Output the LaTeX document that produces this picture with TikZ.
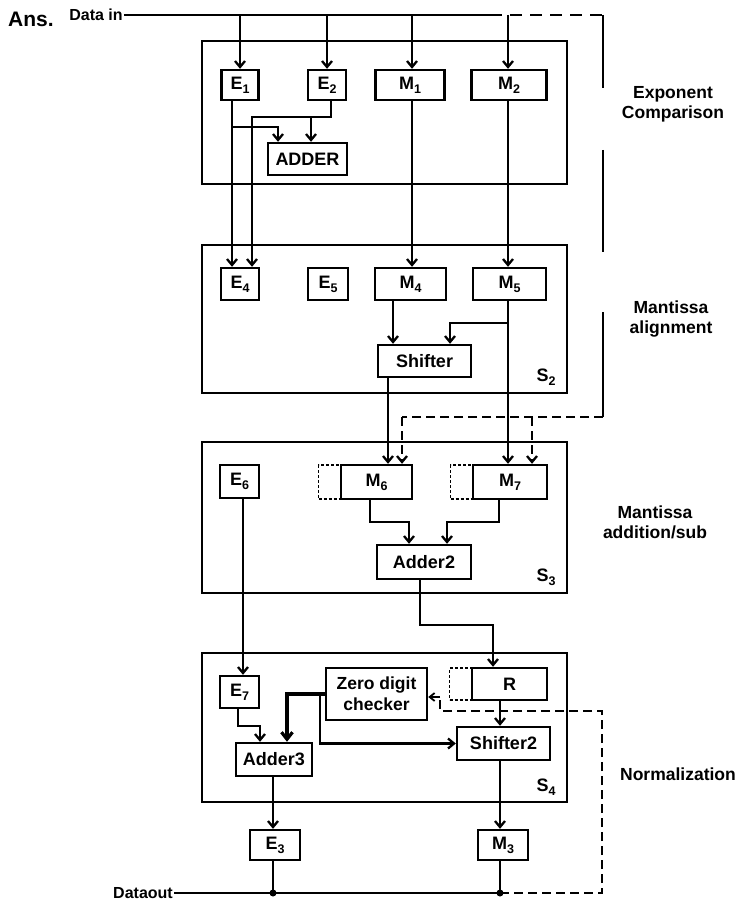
\documentclass[tikz,border=0pt]{standalone}
\usepackage{fontspec}
\setmainfont{Liberation Sans}
\usetikzlibrary{arrows.meta}
\newcommand\lowsub[1]{\raisebox{-0.4ex}{\fontsize{12.5}{12.5}\selectfont #1}}
\begin{document}
\begin{tikzpicture}[x=1pt,y=-1pt,
  txt/.style={font=\fontsize{18}{20}\selectfont\bfseries},
  blk/.style={draw, line width=2.4pt, inner sep=0pt, txt},
  stage/.style={draw, line width=2.4pt, inner sep=0pt},
  dotbox/.style={draw, line width=1.6pt, dash pattern=on 3pt off 2pt, inner sep=0pt},
  ln/.style={line width=2.3pt},
  arr/.style={line width=2.3pt, -{Straight Barb[length=6pt,width=10pt]}},
  dsh/.style={line width=2.3pt, dash pattern=on 9pt off 5pt},
  lbl/.style={font=\fontsize{17.5}{20}\selectfont\bfseries, align=center, inner sep=0pt},
  dot/.style={circle, fill, inner sep=0pt, minimum size=7pt}]
\useasboundingbox (0,0) rectangle (743,904);

% stage boxes
\node[stage, minimum width=365pt, minimum height=143pt] (S1) at (384.5,112.5) {};
\node[stage, minimum width=365pt, minimum height=148pt] (S2) at (384.5,319) {};
\node[stage, minimum width=365pt, minimum height=151pt] (S3) at (384.5,517.5) {};
\node[stage, minimum width=365pt, minimum height=149pt] (S4) at (384.5,727.5) {};

% top text
\node[inner sep=0pt, font=\fontsize{21}{22}\selectfont\bfseries] (ans) at (31,19) {Ans.};
\node[inner sep=1pt, font=\fontsize{16}{17}\selectfont\bfseries] (datain) at (96,15) {Data in};

% stage 1
\node[blk, minimum width=37pt, minimum height=30pt] (E1) at (240,85) {E\lowsub1};
\node[blk, minimum width=38pt, minimum height=30pt] (E2) at (327,85) {E\lowsub2};
\node[blk, minimum width=69pt, minimum height=30pt] (M1) at (410,85) {M\lowsub1};
\node[blk, minimum width=75pt, minimum height=30pt] (M2) at (509,85) {M\lowsub2};
\node[blk, minimum width=79pt, minimum height=32pt] (ADDER) at (307.5,159) {ADDER};

% stage 2
\node[blk, minimum width=38pt, minimum height=32pt] (E4) at (240,284) {E\lowsub4};
\node[blk, minimum width=40pt, minimum height=32pt] (E5) at (328,284) {E\lowsub5};
\node[blk, minimum width=71pt, minimum height=32pt] (M4) at (410.5,284) {M\lowsub4};
\node[blk, minimum width=73pt, minimum height=32pt] (M5) at (509.5,284) {M\lowsub5};
\node[blk, minimum width=93pt, minimum height=32pt] (Shifter) at (424.5,361) {Shifter};
\node[txt, inner sep=0pt] (s2) at (546,377) {S\lowsub2};

% stage 3
\node[blk, minimum width=39pt, minimum height=33pt] (E6) at (239.5,481.5) {E\lowsub6};
\node[dotbox, minimum width=23pt, minimum height=34pt] (M6x) at (330,482) {};
\node[blk, minimum width=71pt, minimum height=34pt] (M6) at (376.5,482) {M\lowsub6};
\node[dotbox, minimum width=23pt, minimum height=34pt] (M7x) at (462,482) {};
\node[blk, minimum width=74pt, minimum height=34pt] (M7) at (510,482) {M\lowsub7};
\node[blk, minimum width=94pt, minimum height=34pt] (Adder2) at (424,562) {Adder2};
\node[txt, inner sep=0pt] (s3) at (546,577) {S\lowsub3};

% stage 4
\node[blk, minimum width=39pt, minimum height=32pt] (E7) at (239.5,692) {E\lowsub7};
\node[blk, minimum width=101pt, minimum height=52pt, align=center, font=\fontsize{17.5}{21}\selectfont\bfseries] (ZC) at (376.5,694) {Zero digit\\checker};
\node[dotbox, minimum width=23pt, minimum height=32pt] (Rx) at (461,684) {};
\node[blk, minimum width=75pt, minimum height=32pt] (R) at (509.5,684) {R};
\node[blk, minimum width=93pt, minimum height=33pt] (Shifter2) at (503.5,743.5) {Shifter2};
\node[blk, minimum width=76pt, minimum height=33pt] (Adder3) at (274,759.5) {Adder3};
\node[txt, inner sep=0pt] (s4) at (546,787) {S\lowsub4};

% outputs
\node[blk, minimum width=50pt, minimum height=30pt] (E3) at (275,845) {E\lowsub3};
\node[blk, minimum width=50pt, minimum height=30pt] (M3) at (503,845) {M\lowsub3};
\node[inner sep=1pt, anchor=east, font=\fontsize{16}{17}\selectfont\bfseries] (dout) at (174,893) {Dataout};

% side labels
\node[lbl] (L1) at (673,104) {Exponent\\Comparison};
\node[lbl] (L2) at (671,319) {Mantissa\\alignment};
\node[lbl] (L3) at (655,522) {Mantissa\\addition/sub};
\node[lbl] (L4) at (678,774) {Normalization};

% junction coordinates
\coordinate (dmid) at (490,15);
\coordinate (dR) at (603,15);
\coordinate (dC) at (603,417);
\coordinate (je3) at (273,893);
\coordinate (jm3) at (500,893);

% data in line
\draw[ln] (datain.east) -- (dmid);
\draw[line width=2.3pt, dash pattern=on 12pt off 8pt] (dmid) -- (dR);
\draw[arr] (E1.north |- dmid) -- (E1.north);
\draw[arr] (E2.north |- dmid) -- (E2.north);
\draw[arr] (412,15) -- (M1.north -| 412,0);
\draw[arr] (508,15) -- (M2.north -| 508,0);

% stage 1 internal
\draw[arr] (E1.south -| 232,0) -- (E4.north -| 232,0);
\draw[arr] (232,127) -| (ADDER.north -| 278,0);
\draw[arr] (E2.south -| 331,0) |- (252,117) -- (E4.north -| 252,0);
\draw[arr] (311,117) -- (ADDER.north -| 311,0);
\draw[arr] (M1.south -| 412,0) -- (M4.north -| 412,0);
\draw[arr] (M2.south -| 508,0) -- (M5.north -| 508,0);

% stage 2 internal
\draw[arr] (M4.south -| 393,0) -- (Shifter.north -| 393,0);
\draw[arr] (M5.south -| 508,0) -- (M7.north -| 508,0);
\draw[arr] (508,323) -| (Shifter.north -| 450,0);
\draw[arr] (Shifter.south -| 388,0) -- (M6.north -| 388,0);

% dashed feed to stage 3
\draw[line width=2.3pt, dash pattern=on 73pt off 62pt on 102pt off 60pt on 110pt] (dR) -- (dC);
\draw[dsh] (dC) -- (402,417);
\draw[dsh, -{Straight Barb[length=6pt,width=10pt]}] (402,417) -- (M6.north -| 402,0);
\draw[dsh, -{Straight Barb[length=6pt,width=10pt]}] (532,417) -- (M7.north -| 532,0);

% stage 3 internal
\draw[arr] (M6.south -| 370,0) |- (409,522) -- (Adder2.north -| 409,0);
\draw[arr] (M7.south -| 499,0) |- (447,522) -- (Adder2.north -| 447,0);
\draw[arr] (Adder2.south -| 420,0) |- (493,625) -- (R.north -| 493,0);
\draw[arr] (E6.south -| 243,0) -- (E7.north -| 243,0);

% stage 4 internal
\draw[arr] (E7.south -| 238,0) |- (260,726) -- (Adder3.north -| 260,0);
\draw[line width=3.2pt, -{Straight Barb[length=7pt,width=11pt]}] (ZC.west) -| (Adder3.north -| 287,0);
\draw[arr] (ZC.west -| 320,0) |- (Shifter2.west);
\draw[arr] (R.south -| 500,0) -- (Shifter2.north -| 500,0);
\draw[arr] (Shifter2.south -| 500,0) -- (M3.north -| 500,0);
\draw[arr] (Adder3.south -| 273,0) -- (E3.north -| 273,0);

% data out
\draw[ln] (E3.south -| 273,0) -- (je3);
\draw[ln] (M3.south -| 500,0) -- (jm3);
\draw[ln] (dout.east) -- (jm3);
\node[dot] at (je3) {};
\node[dot] at (jm3) {};
\draw[dsh] (jm3) -- (602,893) -- (602,711) -- (440,711) -- (440,697);
\draw[line width=1.8pt, -{Straight Barb[length=5pt,width=8pt]}] (440,697) -- (ZC.east |- 0,697);
\end{tikzpicture}
\end{document}
